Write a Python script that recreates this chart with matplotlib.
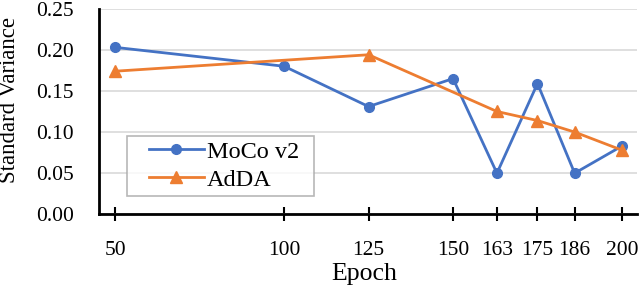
import matplotlib
matplotlib.use("Agg")
import matplotlib.pyplot as plt
from matplotlib.legend_handler import HandlerLine2D

moco_epochs = [50, 100, 125, 150, 163, 175, 186, 200]
moco_values = [0.203, 0.180, 0.131, 0.165, 0.050, 0.159, 0.050, 0.083]
adda_epochs = [50, 125, 163, 175, 186, 200]
adda_values = [0.174, 0.194, 0.125, 0.114, 0.100, 0.078]
x_ticks = [50, 100, 125, 150, 163, 175, 186, 200]
y_ticks = [0.00, 0.05, 0.10, 0.15, 0.20, 0.25]

plt.rcParams['font.family'] = ['Liberation Serif', 'DejaVu Serif']

fig = plt.figure(figsize=(6.4, 2.87), dpi=100)
ax = fig.add_axes([0.1547, 0.2533, 0.995 - 0.1547, 0.9697 - 0.2533])

l1, = ax.plot(moco_epochs, moco_values, color='#4472C4', lw=2, marker='o', ms=7,
              label='MoCo v2', zorder=3)
l2, = ax.plot(adda_epochs, adda_values, color='#ED7D31', lw=2, marker='^', ms=8,
              label='AdDA', zorder=3)

ax.set_xlim(45.2, 204.4)
ax.set_ylim(0, 0.25)
ax.set_xticks(x_ticks)
ax.set_xticklabels([str(t) for t in x_ticks])
ax.set_yticks(y_ticks)
ax.set_yticklabels([f"{t:.2f}" for t in y_ticks])
ax.grid(axis='y', color='#d9d9d9', lw=1.2)
ax.set_axisbelow(True)
for s in ['top', 'right']:
    ax.spines[s].set_visible(False)
ax.spines['left'].set_linewidth(2)
ax.spines['bottom'].set_linewidth(2)
ax.tick_params(axis='y', length=0, labelsize=15.5, pad=18)
ax.tick_params(axis='x', direction='inout', length=10, width=1.5, labelsize=15.5, pad=14)

ax.set_xlabel('Epoch', fontsize=18.5)
ax.xaxis.set_label_coords(0.493, -0.235)
ax.set_ylabel('Standard Variance', fontsize=16.4, va='center')
ax.yaxis.set_label_coords(-0.1665, 0.556)

hm = {l1: HandlerLine2D(xpad=0.7), l2: HandlerLine2D(xpad=0.7)}
leg = ax.legend(handles=[l1, l2], handler_map=hm, mode='expand',
                loc='upper left', bbox_to_anchor=(0.052, 0.081, 0.3477, 0.3),
                fontsize=17.5, frameon=True, fancybox=False, edgecolor='#a6a6a6',
                handlelength=2.96, borderpad=0.2, labelspacing=0.25,
                handletextpad=0.12, borderaxespad=0)
leg.get_frame().set_linewidth(1.2)

fig.savefig('out.png', dpi=100)
